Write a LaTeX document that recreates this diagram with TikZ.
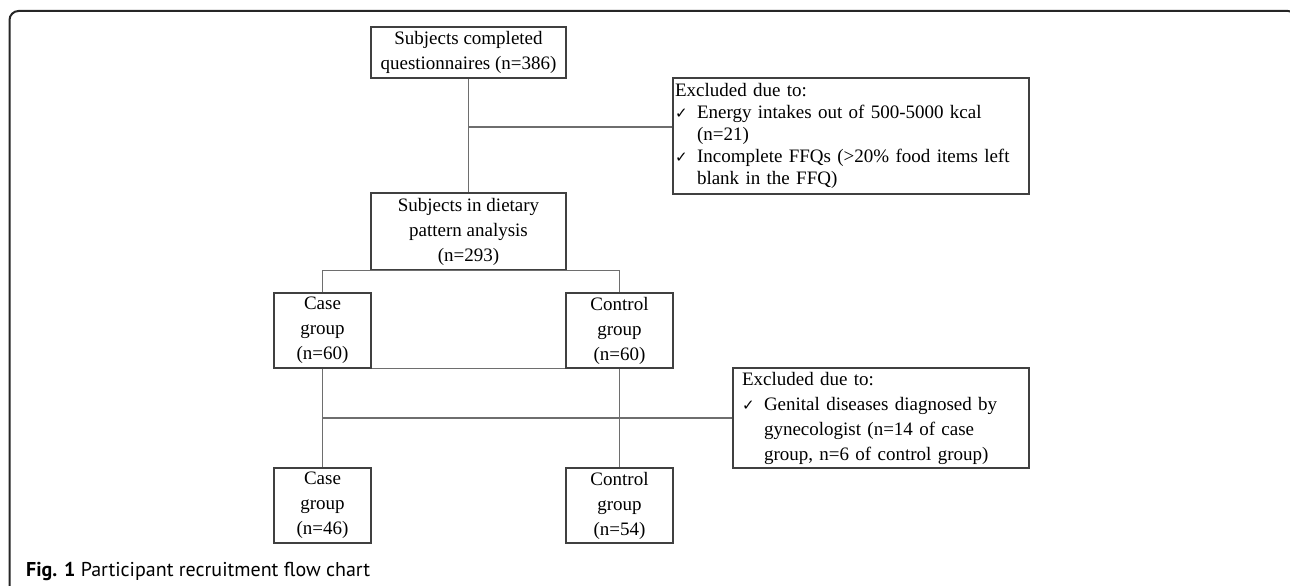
\documentclass[tikz,border=0pt]{standalone}
\usepackage{fontspec}
\setmainfont{Liberation Serif}
\newfontfamily\capfont{PT Sans}
\newfontfamily\chkfont{DejaVu Sans}
\usepackage{xcolor}
\usepackage{tikz}
\usetikzlibrary{positioning,calc}

\definecolor{boxgray}{HTML}{404040}
\definecolor{linegray}{HTML}{6E6E6E}
\newcommand{\chk}{\makebox[22pt][l]{\chkfont\fontsize{15}{15}\selectfont ✓}}

\tikzset{
    flowbox/.style={draw=boxgray, line width=1.3pt, align=center, inner sep=0pt,
        font=\fontsize{19}{25}\selectfont},
    exclbox/.style={flowbox, align=left},
    link/.style={draw=linegray, line width=1.3pt}
}

\begin{document}
\begin{tikzpicture}[x=1pt,y=-1pt]
        \useasboundingbox (0,0) rectangle (1290,586);
        \draw[line width=2pt, black!85, rounded corners=9pt] (9.5,620) -- (9.5,11) -- (1297,11) -- (1297,60);

        % Boxes
        \node[flowbox, minimum width=195, minimum height=51] (top) at (468.5,52.5) {Subjects completed\\questionnaires (n=386)};
        \node[exclbox, minimum width=356, minimum height=116, text width=352, inner xsep=2, font=\fontsize{19}{22}\selectfont] (excl1) at (851,136)
            {Excluded due to:\\\chk Energy intakes out of 500-5000 kcal\\\hspace*{22pt}(n=21)\\\chk Incomplete FFQs (>20\% food items left\\\hspace*{22pt}blank in the FFQ)};
        \node[flowbox, minimum width=195, minimum height=77] (diet) at (468.5,231.5) {Subjects in dietary\\pattern analysis\\(n=293)};

        \node[flowbox, minimum width=97, minimum height=75] (case1) at (322.5,330.5) {Case\\group\\(n=60)};
        \node[flowbox, minimum width=107, minimum height=75] (ctrl1) at (619.5,330.5) {Control\\group\\(n=60)};
        \node[exclbox, minimum width=296, minimum height=100, text width=278, inner xsep=9] (excl2) at (881,418)
            {Excluded due to:\\\chk Genital diseases diagnosed by\\\hspace*{22pt}gynecologist (n=14 of case\\\hspace*{22pt}group, n=6 of control group)};

        \node[flowbox, minimum width=97, minimum height=75] (case2) at (322.5,505.5) {Case\\group\\(n=46)};
        \node[flowbox, minimum width=107, minimum height=75] (ctrl2) at (619.5,505.5) {Control\\group\\(n=54)};

        % Connectors
        \coordinate (b1) at (468.5,127);
        \draw[link] (top.south) -- (diet.north);
        \draw[link] (b1) -- (b1 -| excl1.west);
        \draw[link] (case1.north) -- (case1.north |- diet.south) -- (ctrl1.north |- diet.south) -- (ctrl1.north);
        \draw[link] (case1.south east) -- (ctrl1.south west);
        \draw[link] (case1.south) -- (case2.north);
        \draw[link] (ctrl1.south) -- (ctrl2.north);
        \draw[link] (case1.south |- excl2.west) -- (excl2.west);

        % Caption
        \node[anchor=base west, inner sep=0pt, font=\capfont\fontsize{20}{24}\selectfont] (cap) at (26,576) {\textbf{Fig. 1} Participant recruitment flow chart};
    \end{tikzpicture}
\end{document}
